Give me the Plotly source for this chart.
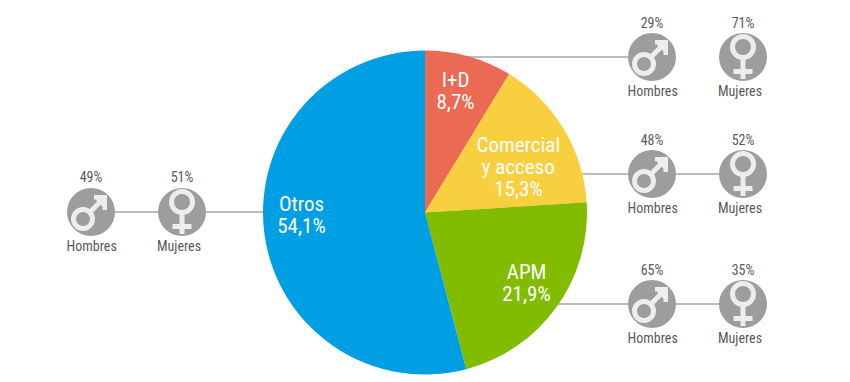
import plotly.graph_objects as go

W, H = 850, 382
categories = ["I+D", "Comercial<br>y acceso", "APM", "Otros"]
shares = [8.7, 15.3, 21.9, 54.1]
colors = ["#EB6A53", "#F8CF3F", "#82BC00", "#009EE2"]
men = [29, 48, 65, 49]
women = [71, 52, 35, 51]
men_label = "Hombres"
women_label = "Mujeres"

GRAY = "#9E9D9B"
GLYPH = "#EDEDED"
LINE = "#BDBDBD"
TEXT = "#5A5A5A"
FONT = "Roboto"

# pie box in pixels
cx, cy, R = 425, 212.5, 162
# icon rows: male x, female x, y
rows = [(652, 743, 57), (652, 743, 174), (652, 743, 304), (91, 182, 212)]
label_pos = [(455, [80, 102.5]), (518, [145, 167, 189]), (526, [271.5, 293.5]), (301, [204, 226])]

px = lambda x: x / W
py = lambda y: 1 - y / H
shapes, ann = [], []


def line(x0, y0, x1, y1, color, width, layer="below"):
    shapes.append(dict(type="line", xref="paper", yref="paper", x0=px(x0), y0=py(y0), x1=px(x1), y1=py(y1),
                       line=dict(color=color, width=width), layer=layer))


def circle(x, y, r, fill, stroke=None, width=0, layer="above"):
    shapes.append(dict(type="circle", xref="paper", yref="paper", x0=px(x - r), x1=px(x + r), y0=py(y + r), y1=py(y - r),
                       fillcolor=fill, line=dict(color=stroke or fill, width=width), layer=layer))


def poly(points, color, width):
    d = "M" + " L".join(f"{px(x):.5f},{py(y):.5f}" for x, y in points)
    shapes.append(dict(type="path", xref="paper", yref="paper", path=d, line=dict(color=color, width=width), layer="above"))


def male(x, y):
    circle(x, y, 24, GRAY)
    circle(x - 8, y + 7, 9.5, GRAY, GLYPH, 5)
    poly([(x - 1, y), (x + 13, y - 14)], GLYPH, 5)
    poly([(x + 3, y - 14.75), (x + 13.75, y - 14.75), (x + 13.75, y - 2)], GLYPH, 4.5)
    poly([(x + 6, y - 13), (x + 13, y - 13), (x + 13, y - 6), (x + 6, y - 13)], GLYPH, 3)


def female(x, y):
    circle(x, y, 24, GRAY)
    circle(x, y - 10, 10.5, GRAY, GLYPH, 5)
    poly([(x, y + 2), (x, y + 22)], GLYPH, 5)
    poly([(x - 9.5, y + 14.5), (x + 9.5, y + 14.5)], GLYPH, 5)


def text(x, y, s, size, color, anchor="center"):
    ann.append(dict(x=px(x), y=py(y), xref="paper", yref="paper", text=s, showarrow=False, xanchor=anchor,
                    yanchor="middle", font=dict(family=FONT, size=size, color=color), align="center"))


# connector lines
for i, (mx, fx, y) in enumerate(rows[:3]):
    line(cx, y, mx, y, LINE, 2)
    if i > 0:
        line(mx, y, fx, y, LINE, 2)
mx, fx, y = rows[3]
line(mx, y, cx, y, LINE, 2)

for (mx, fx, y), m, f in zip(rows, men, women):
    male(mx, y)
    female(fx, y)
    text(mx, y - 34.5, f"{m}%", 14, TEXT)
    text(fx, y - 34.5, f"{f}%", 14, TEXT)
    text(mx, y + 34, men_label, 14, TEXT)
    text(fx - 3, y + 34, women_label, 14, TEXT)

for (x, ys), c, v in zip(label_pos, categories, shares):
    parts = c.split("<br>") + [f"{str(v).replace('.', ',')}%"]
    for part, y in zip(parts, ys):
        text(x, y, part, 21, "#FFFFFF")

fig = go.Figure(go.Pie(
    values=shares, labels=[c.replace("<br>", " ") for c in categories], sort=False, direction="clockwise", rotation=0,
    marker=dict(colors=colors, line=dict(width=0)), textinfo="none", hoverinfo="label+percent",
    domain=dict(x=[px(cx - R), px(cx + R)], y=[py(cy + R), py(cy - R)]), showlegend=False,
))
fig.update_layout(width=W, height=H, margin=dict(l=0, r=0, t=0, b=0), paper_bgcolor="white", shapes=shapes,
                  annotations=ann, font=dict(family=FONT))
fig.write_html("out.html", config=dict(displayModeBar=False),
               post_script="document.body.style.margin='0';"
                           "document.querySelectorAll('.annotation-text').forEach(function(t){t.style.fontStretch='75%';});")
